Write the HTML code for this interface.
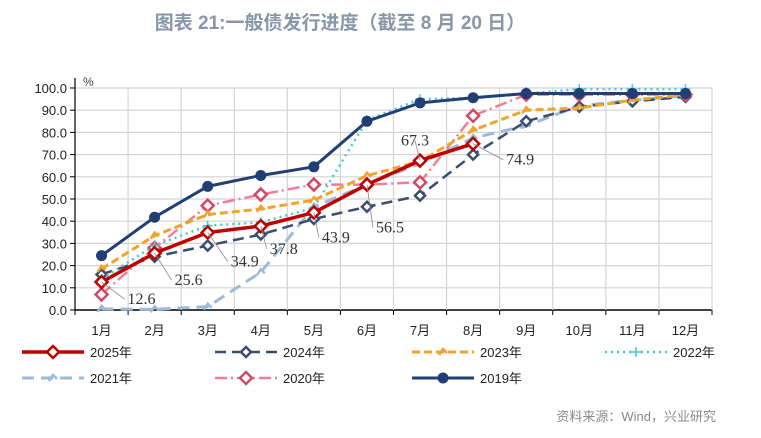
<!DOCTYPE html>
<html><head><meta charset="utf-8"><style>
body{margin:0;width:761px;height:433px;background:#fff;overflow:hidden;font-family:"Liberation Sans","Noto Sans CJK SC",sans-serif}
</style></head><body>
<svg id="c" width="761" height="433" xmlns="http://www.w3.org/2000/svg">
<text x="340" y="29" text-anchor="middle" font-size="19" font-weight="bold" fill="#8796a8" font-family="Liberation Sans,Noto Sans CJK SC,sans-serif">图表 21:一般债发行进度（截至 8 月 20 日）</text>
<text x="716" y="421" text-anchor="end" font-size="13" fill="#8a8a8a" font-family="Liberation Sans,Noto Sans CJK SC,sans-serif">资料来源：Wind，兴业研究</text>
<g id="g"></g>
</svg>
<script>
const months=["1月","2月","3月","4月","5月","6月","7月","8月","9月","10月","11月","12月"];
const yTicks=[0,10,20,30,40,50,60,70,80,90,100];
const s2025=[12.6,25.6,34.9,37.8,43.9,56.5,67.3,74.9];
const s2024=[16,24,29,34,41,46.5,51.5,70,85,91.5,94,96];
const s2023=[18.5,33.5,43,45.5,49.5,60.5,67,81,90,91,94.5,97];
const s2022=[14,29,38,39.5,46,85.5,95,95.5,97.5,99.5,99.5,99.5];
const s2021=[0.5,0.3,1.5,17,46.5,56.5,66,77.5,83,92,94.5,96.5];
const s2020=[7,28,47,52,56.5,56.5,57.5,87.5,97,97,97,97];
const s2019=[24.5,41.8,55.7,60.6,64.5,85,93.3,95.6,97.5,97.5,97.5,97.5];
const labels2025=[12.6,25.6,34.9,37.8,43.9,56.5,67.3,74.9];
const NS="http://www.w3.org/2000/svg";
const g=document.getElementById('g');
const L=75,R=712,T=88,B=310;
const bw=(R-L)/12;
const x=i=>L+bw*(i+0.5);
const y=v=>B-(v/100)*(B-T);
function mk(t,a){const e=document.createElementNS(NS,t);for(const k in a)e.setAttribute(k,a[k]);g.appendChild(e);return e;}
yTicks.forEach(v=>{
 const l=mk('line',{x1:L,x2:R,y1:y(v),y2:y(v),stroke:v===0?'#000':'#d4d4d4','stroke-width':v===0?1.5:1.2});
 
 
 const t=mk('text',{x:L-8,y:y(v)+5,'text-anchor':'end','font-size':13,fill:'#222'});
 t.textContent=v.toFixed(1);
 
 
 mk('line',{x1:L-5,x2:L,y1:y(v),y2:y(v),stroke:'#000'});
});
for(let i=0;i<=12;i++){
 const xx=L+bw*i;
 if(i>0){const l=mk('line',{x1:xx,x2:xx,y1:T,y2:B,stroke:'#d4d4d4','stroke-width':1.2});
 
 }
 mk('line',{x1:xx,x2:xx,y1:B,y2:B+5,stroke:'#000'});
}
mk('line',{x1:L,x2:L,y1:T-10,y2:B,stroke:'#000','stroke-width':1.2});
const pc=mk('text',{x:L+8,y:T-2,'font-size':12,fill:'#444'});pc.textContent='%';


months.forEach((m,i)=>{const t=mk('text',{x:x(i),y:B+25,'text-anchor':'middle','font-size':13,fill:'#222'});t.textContent=m;
 
 });
const series=[
 {n:'2021',d:s2021,c:'#9dbad8',w:3,da:'12,7',m:'tri'},
 {n:'2024',d:s2024,c:'#3b4e6e',w:2.5,da:'11,6',m:'dia'},
 {n:'2020',d:s2020,c:'#ee7f95',w:2.5,da:'12,4,2,4',m:'dia2'},
 {n:'2022',d:s2022,c:'#49c8cf',w:2.5,da:'2,4',m:'plus'},
 {n:'2023',d:s2023,c:'#f0a42c',w:3,da:'8,4',m:'tri'},
 {n:'2025',d:s2025,c:'#c00000',w:3.5,da:'',m:'dia3'},
 {n:'2019',d:s2019,c:'#213f73',w:3,da:'',m:'circ'}];
function marker(m,cx,cy,c){
 if(m==='circ')return mk('circle',{cx,cy,r:5.5,fill:c});
 if(m==='dia'||m==='dia2'||m==='dia3'){const r=m==='dia'?5:6;
  return mk('path',{d:`M${cx} ${cy-r}L${cx+r} ${cy}L${cx} ${cy+r}L${cx-r} ${cy}Z`,fill:'#fff',stroke:m==='dia2'?'#d04a68':c,'stroke-width':2.5});}
 if(m==='plus')return mk('path',{d:`M${cx-5} ${cy}H${cx+5}M${cx} ${cy-5}V${cy+5}`,stroke:c,'stroke-width':1.5});
 return mk('path',{d:`M${cx-4} ${cy+3}L${cx} ${cy-3}L${cx+4} ${cy+1}`,stroke:c,'stroke-width':2.5,fill:'none'});
}
series.forEach(s=>{
 const p=mk('polyline',{points:s.d.map((v,i)=>x(i)+','+y(v)).join(' '),fill:'none',stroke:s.c,'stroke-width':s.w,'stroke-dasharray':s.da,'stroke-linejoin':'round'});
 
 
 s.d.forEach((v,i)=>{const mm=marker(s.m,x(i),y(v),s.c);
  
  });
});
const off=[[26,-22],[20,-32],[23,-34],[9,-28],[8,-30],[9,-48],[-19,15],[33,-21]];
labels2025.forEach((v,i)=>{
 const px=x(i),py=y(s2025[i]);const lx=px+off[i][0],ly=py-off[i][1];
 const ex=off[i][0]<0?lx+14:lx-3;
 mk('polyline',{points:`${px},${py} ${ex},${ly-5}`,fill:'none',stroke:'#888','stroke-width':0.8});
 const t=mk('text',{x:lx,y:ly,'font-size':16,fill:'#333','font-family':'Liberation Serif,serif'});
 t.textContent=v.toFixed(1);
 
 
});
const leg=[['2025',22,352,5],['2024',215,352,1],['2023',412,352,4],['2022',605,352,3],['2021',22,378,0],['2020',215,378,2],['2019',412,378,6]];
leg.forEach(([n,lx,ly,si])=>{const s=series[si];
 const l=mk('line',{x1:lx,x2:lx+62,y1:ly,y2:ly,stroke:s.c,'stroke-width':s.w,'stroke-dasharray':s.da});
 
 
 marker(s.m,lx+31,ly,s.c);
 const t=mk('text',{x:lx+68,y:ly+5,'font-size':13,fill:'#222'});t.textContent=n+'年';
 
 
});
</script>
</body></html>
